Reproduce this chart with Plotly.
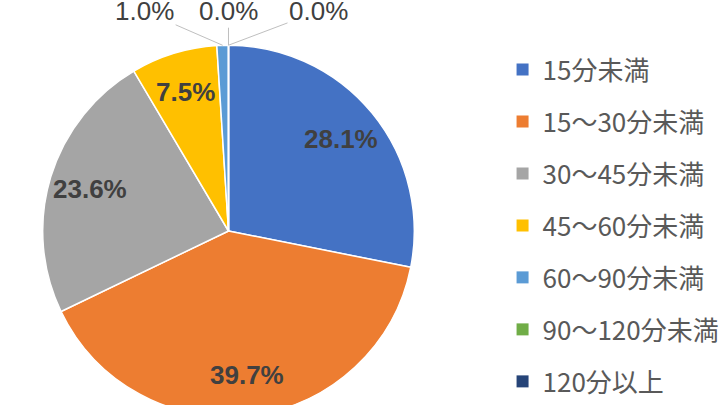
import math
import plotly.graph_objects as go

# 通勤時間の分布
categories = ["15分未満", "15～30分未満", "30～45分未満", "45～60分未満",
              "60～90分未満", "90～120分未満", "120分以上"]
shares = [28.1, 39.7, 23.6, 7.5, 1.0, 0.0, 0.0]
colors = ["#4472C4", "#ED7D31", "#A5A5A5", "#FFC000", "#5B9BD5", "#70AD47", "#264478"]

W, H = 720, 440
DOM_X = [0.0593, 0.5754]
DOM_Y = [0.0527, 0.8973]

fig = go.Figure()

fig.add_trace(go.Pie(
    labels=categories,
    values=shares,
    sort=False,
    direction="clockwise",
    rotation=0,
    marker=dict(colors=colors, line=dict(color="white", width=1.5)),
    textinfo="none",
    domain=dict(x=DOM_X, y=DOM_Y),
    showlegend=False,
    hoverinfo="label+percent",
))

# data labels, placed Excel-style along each slice's middle angle
total = sum(shares)
cx = (DOM_X[0] + DOM_X[1]) / 2
cy = (DOM_Y[0] + DOM_Y[1]) / 2
r = min((DOM_X[1] - DOM_X[0]) * W, (DOM_Y[1] - DOM_Y[0]) * H) / 2

# pixel offsets of the small outside labels from their slice edge
outside_offsets = {4: (-78, -34), 5: (0, -34), 6: (90, -34)}

cum = 0.0
for i, v in enumerate(shares):
    mid = (cum + v / 2) / total * 2 * math.pi
    cum += v
    txt = f"{v / total * 100:.1f}%"
    if i in outside_offsets:
        ax, ay = outside_offsets[i]
        fig.add_annotation(
            x=cx + r * math.sin(mid) / W, y=cy + r * math.cos(mid) / H,
            xref="paper", yref="paper", text=txt,
            showarrow=True, arrowhead=0, arrowwidth=1, arrowcolor="#BFBFBF",
            ax=ax, ay=ay, standoff=0,
            font=dict(family="Liberation Sans, Arial", size=26, color="#404040"),
        )
    else:
        f = 0.78
        fig.add_annotation(
            x=cx + f * r * math.sin(mid) / W, y=cy + f * r * math.cos(mid) / H,
            xref="paper", yref="paper", xanchor="center", yanchor="middle",
            text=txt, showarrow=False,
            font=dict(family="Liberation Sans, Arial", size=26, color="#404040", weight="bold"),
        )

# legend entries (one group each so the spacing can be opened up)
for name, c in zip(categories, colors):
    fig.add_trace(go.Scatter(
        x=[None], y=[None], mode="markers", name=name, legendgroup=name,
        marker=dict(symbol="square", size=12, color=c),
    ))

fig.update_layout(
    width=W, height=H,
    margin=dict(l=0, r=0, t=0, b=0, autoexpand=False),
    paper_bgcolor="white", plot_bgcolor="white",
    xaxis=dict(visible=False), yaxis=dict(visible=False),
    legend=dict(
        x=0.698, xanchor="left", y=0.8955, yanchor="top",
        font=dict(family="Noto Sans CJK JP", size=26, color="#595959"),
        tracegroupgap=15.2, bgcolor="rgba(0,0,0,0)",
    ),
)

fig.write_html(
    "out.html",
    config={"displayModeBar": False},
    post_script="document.body.style.margin='0';document.body.style.overflow='hidden';",
)
